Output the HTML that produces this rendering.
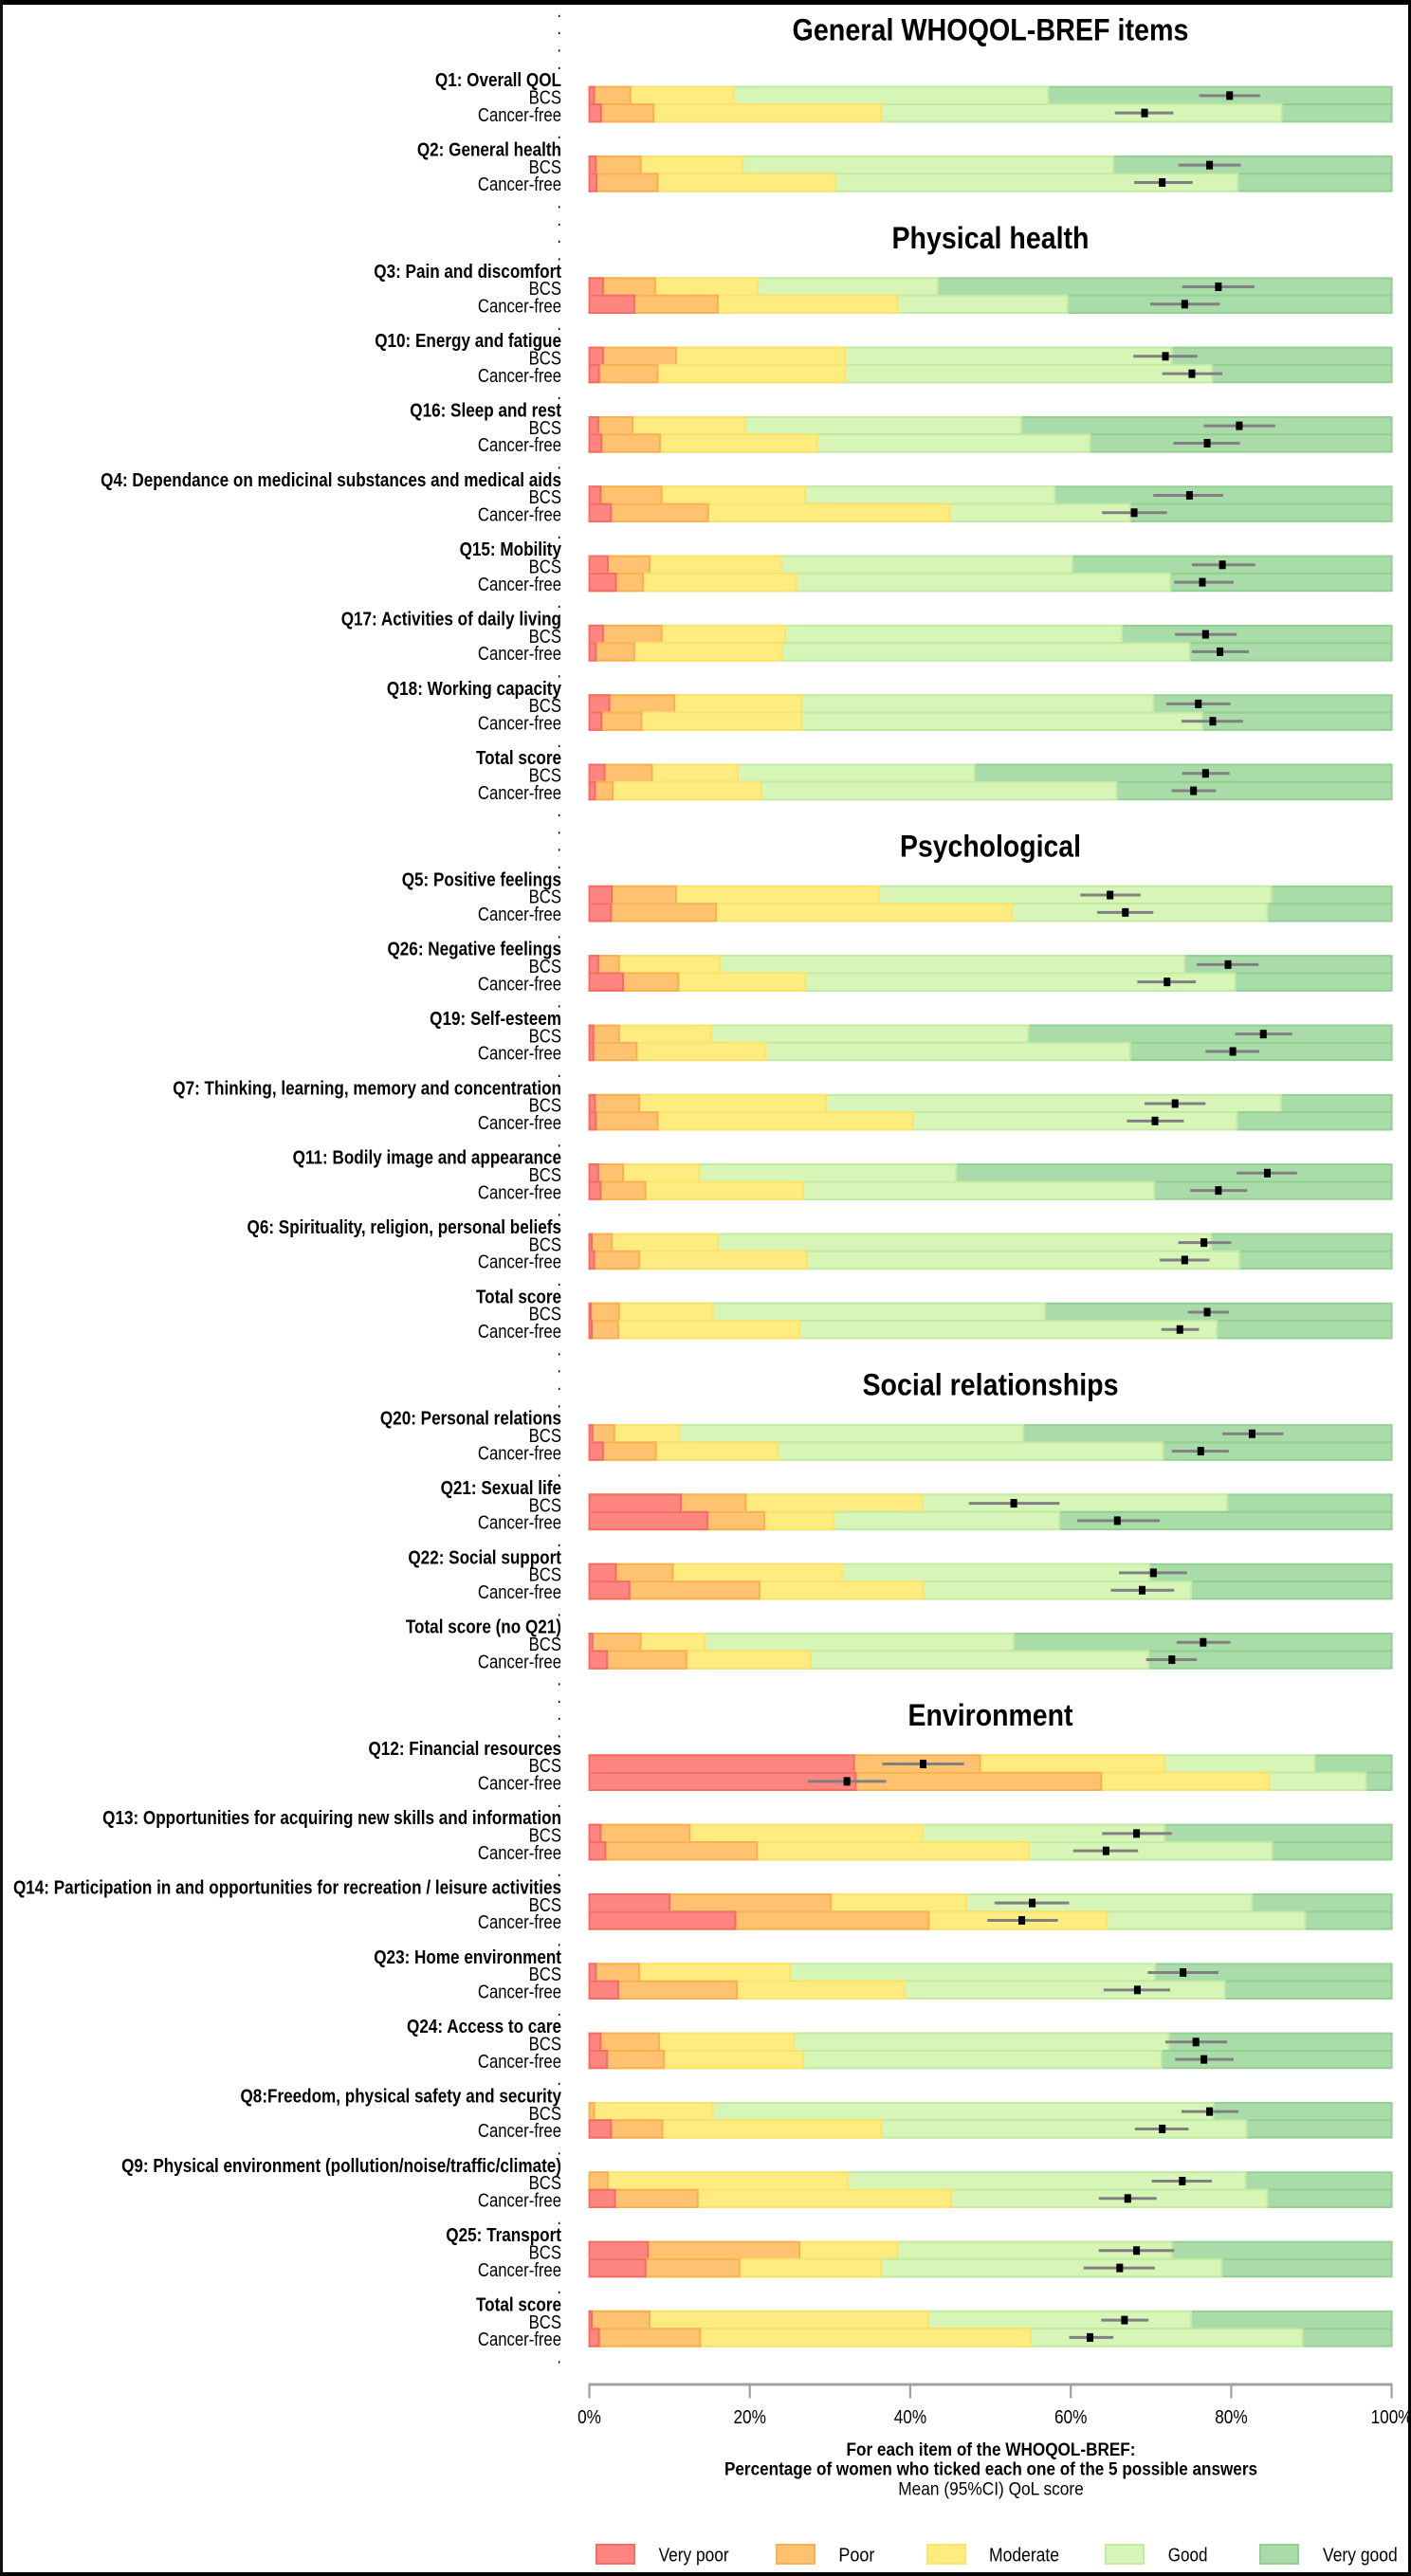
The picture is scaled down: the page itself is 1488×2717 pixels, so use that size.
<!DOCTYPE html>
<html><head><meta charset="utf-8">
<style>
html,body{margin:0;padding:0;background:#fff}
svg{display:block}
text{font-family:"Liberation Sans",Arial,sans-serif;fill:#000}
.L text{text-anchor:end;font-size:20px}
.L text.b{font-weight:bold;font-size:20.5px}
.T text{font-weight:bold;font-size:32.5px;text-anchor:middle}
.v{fill:#aadcaa;stroke:#93cf93}
.g{fill:#d8f5b8;stroke:#c4eaa3}
.m{fill:#ffec80;stroke:#fde36a}
.p{fill:#fec270;stroke:#fbb050}
.r{fill:#ff8580;stroke:#f76b66}
.bars rect{stroke-width:2;vector-effect:non-scaling-stroke}
.bars rect.k{fill:#000;stroke:none}
.bars line{stroke:#808080;stroke-width:3}
.lg rect{stroke-width:2}
</style></head>
<body>
<svg width="1488" height="2717" viewBox="0 0 1488 2717" xmlns="http://www.w3.org/2000/svg">
<rect x="0" y="0" width="1488" height="2717" fill="#fff"/>

<g class="T">
<text x="1044.5" y="42.5" textLength="418" lengthAdjust="spacingAndGlyphs">General WHOQOL-BREF items</text>
<text x="1044.5" y="261.8" textLength="208" lengthAdjust="spacingAndGlyphs">Physical health</text>
<text x="1044.5" y="903.3" textLength="191" lengthAdjust="spacingAndGlyphs">Psychological</text>
<text x="1044.5" y="1471.6" textLength="270" lengthAdjust="spacingAndGlyphs">Social relationships</text>
<text x="1044.5" y="1819.8" textLength="174" lengthAdjust="spacingAndGlyphs">Environment</text>
</g>

<g class="L">
<text transform="translate(592 17.9) scale(.835 1)">.</text>
<text transform="translate(592 36.23) scale(.835 1)">.</text>
<text transform="translate(592 54.56) scale(.835 1)">.</text>
<text transform="translate(592 72.89) scale(.835 1)">.</text>
<text class="b" transform="translate(592 91.22) scale(.835 1)">Q1: Overall QOL</text>
<text transform="translate(592 109.55) scale(.835 1)">BCS</text>
<text transform="translate(592 127.88) scale(.835 1)">Cancer-free</text>
<text transform="translate(592 146.21) scale(.835 1)">.</text>
<text class="b" transform="translate(592 164.54) scale(.835 1)">Q2: General health</text>
<text transform="translate(592 182.87) scale(.835 1)">BCS</text>
<text transform="translate(592 201.2) scale(.835 1)">Cancer-free</text>
<text transform="translate(592 219.53) scale(.835 1)">.</text>
<text transform="translate(592 237.86) scale(.835 1)">.</text>
<text transform="translate(592 256.19) scale(.835 1)">.</text>
<text transform="translate(592 274.52) scale(.835 1)">.</text>
<text class="b" transform="translate(592 292.85) scale(.835 1)">Q3: Pain and discomfort</text>
<text transform="translate(592 311.18) scale(.835 1)">BCS</text>
<text transform="translate(592 329.51) scale(.835 1)">Cancer-free</text>
<text transform="translate(592 347.84) scale(.835 1)">.</text>
<text class="b" transform="translate(592 366.17) scale(.835 1)">Q10: Energy and fatigue</text>
<text transform="translate(592 384.5) scale(.835 1)">BCS</text>
<text transform="translate(592 402.83) scale(.835 1)">Cancer-free</text>
<text transform="translate(592 421.16) scale(.835 1)">.</text>
<text class="b" transform="translate(592 439.49) scale(.835 1)">Q16: Sleep and rest</text>
<text transform="translate(592 457.82) scale(.835 1)">BCS</text>
<text transform="translate(592 476.15) scale(.835 1)">Cancer-free</text>
<text transform="translate(592 494.48) scale(.835 1)">.</text>
<text class="b" transform="translate(592 512.81) scale(.835 1)">Q4: Dependance on medicinal substances and medical aids</text>
<text transform="translate(592 531.14) scale(.835 1)">BCS</text>
<text transform="translate(592 549.47) scale(.835 1)">Cancer-free</text>
<text transform="translate(592 567.8) scale(.835 1)">.</text>
<text class="b" transform="translate(592 586.13) scale(.835 1)">Q15: Mobility</text>
<text transform="translate(592 604.46) scale(.835 1)">BCS</text>
<text transform="translate(592 622.79) scale(.835 1)">Cancer-free</text>
<text transform="translate(592 641.12) scale(.835 1)">.</text>
<text class="b" transform="translate(592 659.45) scale(.835 1)">Q17: Activities of daily living</text>
<text transform="translate(592 677.78) scale(.835 1)">BCS</text>
<text transform="translate(592 696.11) scale(.835 1)">Cancer-free</text>
<text transform="translate(592 714.44) scale(.835 1)">.</text>
<text class="b" transform="translate(592 732.77) scale(.835 1)">Q18: Working capacity</text>
<text transform="translate(592 751.1) scale(.835 1)">BCS</text>
<text transform="translate(592 769.43) scale(.835 1)">Cancer-free</text>
<text transform="translate(592 787.76) scale(.835 1)">.</text>
<text class="b" transform="translate(592 806.09) scale(.835 1)">Total score</text>
<text transform="translate(592 824.42) scale(.835 1)">BCS</text>
<text transform="translate(592 842.75) scale(.835 1)">Cancer-free</text>
<text transform="translate(592 861.08) scale(.835 1)">.</text>
<text transform="translate(592 879.41) scale(.835 1)">.</text>
<text transform="translate(592 897.74) scale(.835 1)">.</text>
<text transform="translate(592 916.07) scale(.835 1)">.</text>
<text class="b" transform="translate(592 934.4) scale(.835 1)">Q5: Positive feelings</text>
<text transform="translate(592 952.73) scale(.835 1)">BCS</text>
<text transform="translate(592 971.06) scale(.835 1)">Cancer-free</text>
<text transform="translate(592 989.39) scale(.835 1)">.</text>
<text class="b" transform="translate(592 1007.72) scale(.835 1)">Q26: Negative feelings</text>
<text transform="translate(592 1026.05) scale(.835 1)">BCS</text>
<text transform="translate(592 1044.38) scale(.835 1)">Cancer-free</text>
<text transform="translate(592 1062.71) scale(.835 1)">.</text>
<text class="b" transform="translate(592 1081.04) scale(.835 1)">Q19: Self-esteem</text>
<text transform="translate(592 1099.37) scale(.835 1)">BCS</text>
<text transform="translate(592 1117.7) scale(.835 1)">Cancer-free</text>
<text transform="translate(592 1136.03) scale(.835 1)">.</text>
<text class="b" transform="translate(592 1154.36) scale(.835 1)">Q7: Thinking, learning, memory and concentration</text>
<text transform="translate(592 1172.69) scale(.835 1)">BCS</text>
<text transform="translate(592 1191.02) scale(.835 1)">Cancer-free</text>
<text transform="translate(592 1209.35) scale(.835 1)">.</text>
<text class="b" transform="translate(592 1227.68) scale(.835 1)">Q11: Bodily image and appearance</text>
<text transform="translate(592 1246.01) scale(.835 1)">BCS</text>
<text transform="translate(592 1264.34) scale(.835 1)">Cancer-free</text>
<text transform="translate(592 1282.67) scale(.835 1)">.</text>
<text class="b" transform="translate(592 1301) scale(.835 1)">Q6: Spirituality, religion, personal beliefs</text>
<text transform="translate(592 1319.33) scale(.835 1)">BCS</text>
<text transform="translate(592 1337.66) scale(.835 1)">Cancer-free</text>
<text transform="translate(592 1355.99) scale(.835 1)">.</text>
<text class="b" transform="translate(592 1374.32) scale(.835 1)">Total score</text>
<text transform="translate(592 1392.65) scale(.835 1)">BCS</text>
<text transform="translate(592 1410.98) scale(.835 1)">Cancer-free</text>
<text transform="translate(592 1429.31) scale(.835 1)">.</text>
<text transform="translate(592 1447.64) scale(.835 1)">.</text>
<text transform="translate(592 1465.97) scale(.835 1)">.</text>
<text transform="translate(592 1484.3) scale(.835 1)">.</text>
<text class="b" transform="translate(592 1502.63) scale(.835 1)">Q20: Personal relations</text>
<text transform="translate(592 1520.96) scale(.835 1)">BCS</text>
<text transform="translate(592 1539.29) scale(.835 1)">Cancer-free</text>
<text transform="translate(592 1557.62) scale(.835 1)">.</text>
<text class="b" transform="translate(592 1575.95) scale(.835 1)">Q21: Sexual life</text>
<text transform="translate(592 1594.28) scale(.835 1)">BCS</text>
<text transform="translate(592 1612.61) scale(.835 1)">Cancer-free</text>
<text transform="translate(592 1630.94) scale(.835 1)">.</text>
<text class="b" transform="translate(592 1649.27) scale(.835 1)">Q22: Social support</text>
<text transform="translate(592 1667.6) scale(.835 1)">BCS</text>
<text transform="translate(592 1685.93) scale(.835 1)">Cancer-free</text>
<text transform="translate(592 1704.26) scale(.835 1)">.</text>
<text class="b" transform="translate(592 1722.59) scale(.835 1)">Total score (no Q21)</text>
<text transform="translate(592 1740.92) scale(.835 1)">BCS</text>
<text transform="translate(592 1759.25) scale(.835 1)">Cancer-free</text>
<text transform="translate(592 1777.58) scale(.835 1)">.</text>
<text transform="translate(592 1795.91) scale(.835 1)">.</text>
<text transform="translate(592 1814.24) scale(.835 1)">.</text>
<text transform="translate(592 1832.57) scale(.835 1)">.</text>
<text class="b" transform="translate(592 1850.9) scale(.835 1)">Q12: Financial resources</text>
<text transform="translate(592 1869.23) scale(.835 1)">BCS</text>
<text transform="translate(592 1887.56) scale(.835 1)">Cancer-free</text>
<text transform="translate(592 1905.89) scale(.835 1)">.</text>
<text class="b" transform="translate(592 1924.22) scale(.835 1)">Q13: Opportunities for acquiring new skills and information</text>
<text transform="translate(592 1942.55) scale(.835 1)">BCS</text>
<text transform="translate(592 1960.88) scale(.835 1)">Cancer-free</text>
<text transform="translate(592 1979.21) scale(.835 1)">.</text>
<text class="b" transform="translate(592 1997.54) scale(.835 1)">Q14: Participation in and opportunities for recreation / leisure activities</text>
<text transform="translate(592 2015.87) scale(.835 1)">BCS</text>
<text transform="translate(592 2034.2) scale(.835 1)">Cancer-free</text>
<text transform="translate(592 2052.53) scale(.835 1)">.</text>
<text class="b" transform="translate(592 2070.86) scale(.835 1)">Q23: Home environment</text>
<text transform="translate(592 2089.19) scale(.835 1)">BCS</text>
<text transform="translate(592 2107.52) scale(.835 1)">Cancer-free</text>
<text transform="translate(592 2125.85) scale(.835 1)">.</text>
<text class="b" transform="translate(592 2144.18) scale(.835 1)">Q24: Access to care</text>
<text transform="translate(592 2162.51) scale(.835 1)">BCS</text>
<text transform="translate(592 2180.84) scale(.835 1)">Cancer-free</text>
<text transform="translate(592 2199.17) scale(.835 1)">.</text>
<text class="b" transform="translate(592 2217.5) scale(.835 1)">Q8:Freedom, physical safety and security</text>
<text transform="translate(592 2235.83) scale(.835 1)">BCS</text>
<text transform="translate(592 2254.16) scale(.835 1)">Cancer-free</text>
<text transform="translate(592 2272.49) scale(.835 1)">.</text>
<text class="b" transform="translate(592 2290.82) scale(.835 1)">Q9: Physical environment (pollution/noise/traffic/climate)</text>
<text transform="translate(592 2309.15) scale(.835 1)">BCS</text>
<text transform="translate(592 2327.48) scale(.835 1)">Cancer-free</text>
<text transform="translate(592 2345.81) scale(.835 1)">.</text>
<text class="b" transform="translate(592 2364.14) scale(.835 1)">Q25: Transport</text>
<text transform="translate(592 2382.47) scale(.835 1)">BCS</text>
<text transform="translate(592 2400.8) scale(.835 1)">Cancer-free</text>
<text transform="translate(592 2419.13) scale(.835 1)">.</text>
<text class="b" transform="translate(592 2437.46) scale(.835 1)">Total score</text>
<text transform="translate(592 2455.79) scale(.835 1)">BCS</text>
<text transform="translate(592 2474.12) scale(.835 1)">Cancer-free</text>
<text transform="translate(592 2492.45) scale(.835 1)">.</text>
</g>

<g class="bars">
<!-- Q1 -->
<g transform="translate(621.5 100.85) scale(8.461 1)"><rect class="v" y="-9.165" width="100" height="18.33"/><rect class="g" y="-9.165" width="57.2" height="18.33"/><rect class="m" y="-9.165" width="18" height="18.33"/><rect class="p" y="-9.165" width="5.1" height="18.33"/><rect class="r" y="-9.165" width="0.6" height="18.33"/><line x1="76" x2="83.6"/><rect class="k" x="79.39" y="-4.5" width="0.83" height="9"/></g>
<g transform="translate(621.5 119.18) scale(8.461 1)"><rect class="v" y="-9.165" width="100" height="18.33"/><rect class="g" y="-9.165" width="86.3" height="18.33"/><rect class="m" y="-9.165" width="36.4" height="18.33"/><rect class="p" y="-9.165" width="8" height="18.33"/><rect class="r" y="-9.165" width="1.45" height="18.33"/><line x1="65.5" x2="72.8"/><rect class="k" x="68.79" y="-4.5" width="0.83" height="9"/></g>
<!-- Q2 -->
<g transform="translate(621.5 174.17) scale(8.461 1)"><rect class="v" y="-9.165" width="100" height="18.33"/><rect class="g" y="-9.165" width="65.3" height="18.33"/><rect class="m" y="-9.165" width="19.1" height="18.33"/><rect class="p" y="-9.165" width="6.4" height="18.33"/><rect class="r" y="-9.165" width="0.8" height="18.33"/><line x1="73.4" x2="81.2"/><rect class="k" x="76.89" y="-4.5" width="0.83" height="9"/></g>
<g transform="translate(621.5 192.5) scale(8.461 1)"><rect class="v" y="-9.165" width="100" height="18.33"/><rect class="g" y="-9.165" width="80.8" height="18.33"/><rect class="m" y="-9.165" width="30.6" height="18.33"/><rect class="p" y="-9.165" width="8.5" height="18.33"/><rect class="r" y="-9.165" width="0.9" height="18.33"/><line x1="67.9" x2="75.2"/><rect class="k" x="70.99" y="-4.5" width="0.83" height="9"/></g>
<!-- Q3 -->
<g transform="translate(621.5 302.48) scale(8.461 1)"><rect class="v" y="-9.165" width="100" height="18.33"/><rect class="g" y="-9.165" width="43.4" height="18.33"/><rect class="m" y="-9.165" width="21" height="18.33"/><rect class="p" y="-9.165" width="8.2" height="18.33"/><rect class="r" y="-9.165" width="1.7" height="18.33"/><line x1="73.9" x2="82.9"/><rect class="k" x="77.99" y="-4.5" width="0.83" height="9"/></g>
<g transform="translate(621.5 320.81) scale(8.461 1)"><rect class="v" y="-9.165" width="100" height="18.33"/><rect class="g" y="-9.165" width="59.6" height="18.33"/><rect class="m" y="-9.165" width="38.4" height="18.33"/><rect class="p" y="-9.165" width="16" height="18.33"/><rect class="r" y="-9.165" width="5.6" height="18.33"/><line x1="69.9" x2="78.6"/><rect class="k" x="73.79" y="-4.5" width="0.83" height="9"/></g>
<!-- Q10 -->
<g transform="translate(621.5 375.8) scale(8.461 1)"><rect class="v" y="-9.165" width="100" height="18.33"/><rect class="g" y="-9.165" width="72.6" height="18.33"/><rect class="m" y="-9.165" width="31.9" height="18.33"/><rect class="p" y="-9.165" width="10.8" height="18.33"/><rect class="r" y="-9.165" width="1.7" height="18.33"/><line x1="67.8" x2="75.8"/><rect class="k" x="71.39" y="-4.5" width="0.83" height="9"/></g>
<g transform="translate(621.5 394.13) scale(8.461 1)"><rect class="v" y="-9.165" width="100" height="18.33"/><rect class="g" y="-9.165" width="77.6" height="18.33"/><rect class="m" y="-9.165" width="31.9" height="18.33"/><rect class="p" y="-9.165" width="8.5" height="18.33"/><rect class="r" y="-9.165" width="1.2" height="18.33"/><line x1="71.4" x2="78.9"/><rect class="k" x="74.69" y="-4.5" width="0.83" height="9"/></g>
<!-- Q16 -->
<g transform="translate(621.5 449.12) scale(8.461 1)"><rect class="v" y="-9.165" width="100" height="18.33"/><rect class="g" y="-9.165" width="53.8" height="18.33"/><rect class="m" y="-9.165" width="19.4" height="18.33"/><rect class="p" y="-9.165" width="5.4" height="18.33"/><rect class="r" y="-9.165" width="1.1" height="18.33"/><line x1="76.6" x2="85.5"/><rect class="k" x="80.59" y="-4.5" width="0.83" height="9"/></g>
<g transform="translate(621.5 467.45) scale(8.461 1)"><rect class="v" y="-9.165" width="100" height="18.33"/><rect class="g" y="-9.165" width="62.4" height="18.33"/><rect class="m" y="-9.165" width="28.4" height="18.33"/><rect class="p" y="-9.165" width="8.8" height="18.33"/><rect class="r" y="-9.165" width="1.5" height="18.33"/><line x1="72.8" x2="81.1"/><rect class="k" x="76.59" y="-4.5" width="0.83" height="9"/></g>
<!-- Q4 -->
<g transform="translate(621.5 522.44) scale(8.461 1)"><rect class="v" y="-9.165" width="100" height="18.33"/><rect class="g" y="-9.165" width="58" height="18.33"/><rect class="m" y="-9.165" width="26.9" height="18.33"/><rect class="p" y="-9.165" width="9" height="18.33"/><rect class="r" y="-9.165" width="1.4" height="18.33"/><line x1="70.3" x2="79"/><rect class="k" x="74.39" y="-4.5" width="0.83" height="9"/></g>
<g transform="translate(621.5 540.77) scale(8.461 1)"><rect class="v" y="-9.165" width="100" height="18.33"/><rect class="g" y="-9.165" width="67.4" height="18.33"/><rect class="m" y="-9.165" width="44.9" height="18.33"/><rect class="p" y="-9.165" width="14.8" height="18.33"/><rect class="r" y="-9.165" width="2.7" height="18.33"/><line x1="63.9" x2="72"/><rect class="k" x="67.49" y="-4.5" width="0.83" height="9"/></g>
<!-- Q15 -->
<g transform="translate(621.5 595.76) scale(8.461 1)"><rect class="v" y="-9.165" width="100" height="18.33"/><rect class="g" y="-9.165" width="60.2" height="18.33"/><rect class="m" y="-9.165" width="23.9" height="18.33"/><rect class="p" y="-9.165" width="7.5" height="18.33"/><rect class="r" y="-9.165" width="2.3" height="18.33"/><line x1="75.1" x2="83"/><rect class="k" x="78.49" y="-4.5" width="0.83" height="9"/></g>
<g transform="translate(621.5 614.09) scale(8.461 1)"><rect class="v" y="-9.165" width="100" height="18.33"/><rect class="g" y="-9.165" width="72.4" height="18.33"/><rect class="m" y="-9.165" width="25.8" height="18.33"/><rect class="p" y="-9.165" width="6.7" height="18.33"/><rect class="r" y="-9.165" width="3.3" height="18.33"/><line x1="72.9" x2="80.3"/><rect class="k" x="75.99" y="-4.5" width="0.83" height="9"/></g>
<!-- Q17 -->
<g transform="translate(621.5 669.08) scale(8.461 1)"><rect class="v" y="-9.165" width="100" height="18.33"/><rect class="g" y="-9.165" width="66.4" height="18.33"/><rect class="m" y="-9.165" width="24.4" height="18.33"/><rect class="p" y="-9.165" width="9" height="18.33"/><rect class="r" y="-9.165" width="1.7" height="18.33"/><line x1="73" x2="80.7"/><rect class="k" x="76.39" y="-4.5" width="0.83" height="9"/></g>
<g transform="translate(621.5 687.41) scale(8.461 1)"><rect class="v" y="-9.165" width="100" height="18.33"/><rect class="g" y="-9.165" width="74.8" height="18.33"/><rect class="m" y="-9.165" width="24" height="18.33"/><rect class="p" y="-9.165" width="5.6" height="18.33"/><rect class="r" y="-9.165" width="0.8" height="18.33"/><line x1="75.1" x2="82.2"/><rect class="k" x="78.19" y="-4.5" width="0.83" height="9"/></g>
<!-- Q18 -->
<g transform="translate(621.5 742.4) scale(8.461 1)"><rect class="v" y="-9.165" width="100" height="18.33"/><rect class="g" y="-9.165" width="70.3" height="18.33"/><rect class="m" y="-9.165" width="26.4" height="18.33"/><rect class="p" y="-9.165" width="10.6" height="18.33"/><rect class="r" y="-9.165" width="2.5" height="18.33"/><line x1="71.9" x2="79.9"/><rect class="k" x="75.49" y="-4.5" width="0.83" height="9"/></g>
<g transform="translate(621.5 760.73) scale(8.461 1)"><rect class="v" y="-9.165" width="100" height="18.33"/><rect class="g" y="-9.165" width="76.4" height="18.33"/><rect class="m" y="-9.165" width="26.4" height="18.33"/><rect class="p" y="-9.165" width="6.5" height="18.33"/><rect class="r" y="-9.165" width="1.5" height="18.33"/><line x1="73.8" x2="81.5"/><rect class="k" x="77.29" y="-4.5" width="0.83" height="9"/></g>
<!-- Total physical -->
<g transform="translate(621.5 815.72) scale(8.461 1)"><rect class="v" y="-9.165" width="100" height="18.33"/><rect class="g" y="-9.165" width="48" height="18.33"/><rect class="m" y="-9.165" width="18.5" height="18.33"/><rect class="p" y="-9.165" width="7.8" height="18.33"/><rect class="r" y="-9.165" width="1.9" height="18.33"/><line x1="73.9" x2="79.8"/><rect class="k" x="76.39" y="-4.5" width="0.83" height="9"/></g>
<g transform="translate(621.5 834.05) scale(8.461 1)"><rect class="v" y="-9.165" width="100" height="18.33"/><rect class="g" y="-9.165" width="65.7" height="18.33"/><rect class="m" y="-9.165" width="21.4" height="18.33"/><rect class="p" y="-9.165" width="2.9" height="18.33"/><rect class="r" y="-9.165" width="0.7" height="18.33"/><line x1="72.6" x2="78.1"/><rect class="k" x="74.89" y="-4.5" width="0.83" height="9"/></g>
<!-- Q5 -->
<g transform="translate(621.5 944.03) scale(8.461 1)"><rect class="v" y="-9.165" width="100" height="18.33"/><rect class="g" y="-9.165" width="85" height="18.33"/><rect class="m" y="-9.165" width="36.1" height="18.33"/><rect class="p" y="-9.165" width="10.8" height="18.33"/><rect class="r" y="-9.165" width="2.8" height="18.33"/><line x1="61.2" x2="68.7"/><rect class="k" x="64.49" y="-4.5" width="0.83" height="9"/></g>
<g transform="translate(621.5 962.36) scale(8.461 1)"><rect class="v" y="-9.165" width="100" height="18.33"/><rect class="g" y="-9.165" width="84.5" height="18.33"/><rect class="m" y="-9.165" width="52.7" height="18.33"/><rect class="p" y="-9.165" width="15.8" height="18.33"/><rect class="r" y="-9.165" width="2.7" height="18.33"/><line x1="63.3" x2="70.3"/><rect class="k" x="66.39" y="-4.5" width="0.83" height="9"/></g>
<!-- Q26 -->
<g transform="translate(621.5 1017.35) scale(8.461 1)"><rect class="v" y="-9.165" width="100" height="18.33"/><rect class="g" y="-9.165" width="74.2" height="18.33"/><rect class="m" y="-9.165" width="16.3" height="18.33"/><rect class="p" y="-9.165" width="3.7" height="18.33"/><rect class="r" y="-9.165" width="1.1" height="18.33"/><line x1="75.7" x2="83.4"/><rect class="k" x="79.19" y="-4.5" width="0.83" height="9"/></g>
<g transform="translate(621.5 1035.68) scale(8.461 1)"><rect class="v" y="-9.165" width="100" height="18.33"/><rect class="g" y="-9.165" width="80.5" height="18.33"/><rect class="m" y="-9.165" width="26.9" height="18.33"/><rect class="p" y="-9.165" width="11.1" height="18.33"/><rect class="r" y="-9.165" width="4.2" height="18.33"/><line x1="68.3" x2="75.6"/><rect class="k" x="71.59" y="-4.5" width="0.83" height="9"/></g>
<!-- Q19 -->
<g transform="translate(621.5 1090.67) scale(8.461 1)"><rect class="v" y="-9.165" width="100" height="18.33"/><rect class="g" y="-9.165" width="54.7" height="18.33"/><rect class="m" y="-9.165" width="15.2" height="18.33"/><rect class="p" y="-9.165" width="3.7" height="18.33"/><rect class="r" y="-9.165" width="0.5" height="18.33"/><line x1="80.5" x2="87.6"/><rect class="k" x="83.59" y="-4.5" width="0.83" height="9"/></g>
<g transform="translate(621.5 1109) scale(8.461 1)"><rect class="v" y="-9.165" width="100" height="18.33"/><rect class="g" y="-9.165" width="67.4" height="18.33"/><rect class="m" y="-9.165" width="22" height="18.33"/><rect class="p" y="-9.165" width="5.9" height="18.33"/><rect class="r" y="-9.165" width="0.5" height="18.33"/><line x1="76.8" x2="83.5"/><rect class="k" x="79.79" y="-4.5" width="0.83" height="9"/></g>
<!-- Q7 -->
<g transform="translate(621.5 1163.99) scale(8.461 1)"><rect class="v" y="-9.165" width="100" height="18.33"/><rect class="g" y="-9.165" width="86.2" height="18.33"/><rect class="m" y="-9.165" width="29.5" height="18.33"/><rect class="p" y="-9.165" width="6.2" height="18.33"/><rect class="r" y="-9.165" width="0.7" height="18.33"/><line x1="69.2" x2="76.8"/><rect class="k" x="72.59" y="-4.5" width="0.83" height="9"/></g>
<g transform="translate(621.5 1182.32) scale(8.461 1)"><rect class="v" y="-9.165" width="100" height="18.33"/><rect class="g" y="-9.165" width="80.7" height="18.33"/><rect class="m" y="-9.165" width="40.3" height="18.33"/><rect class="p" y="-9.165" width="8.5" height="18.33"/><rect class="r" y="-9.165" width="0.8" height="18.33"/><line x1="67" x2="74.1"/><rect class="k" x="70.09" y="-4.5" width="0.83" height="9"/></g>
<!-- Q11 -->
<g transform="translate(621.5 1237.31) scale(8.461 1)"><rect class="v" y="-9.165" width="100" height="18.33"/><rect class="g" y="-9.165" width="45.7" height="18.33"/><rect class="m" y="-9.165" width="13.7" height="18.33"/><rect class="p" y="-9.165" width="4.2" height="18.33"/><rect class="r" y="-9.165" width="1.1" height="18.33"/><line x1="80.7" x2="88.2"/><rect class="k" x="84.09" y="-4.5" width="0.83" height="9"/></g>
<g transform="translate(621.5 1255.64) scale(8.461 1)"><rect class="v" y="-9.165" width="100" height="18.33"/><rect class="g" y="-9.165" width="70.4" height="18.33"/><rect class="m" y="-9.165" width="26.6" height="18.33"/><rect class="p" y="-9.165" width="7" height="18.33"/><rect class="r" y="-9.165" width="1.4" height="18.33"/><line x1="74.9" x2="82"/><rect class="k" x="77.99" y="-4.5" width="0.83" height="9"/></g>
<!-- Q6 -->
<g transform="translate(621.5 1310.63) scale(8.461 1)"><rect class="v" y="-9.165" width="100" height="18.33"/><rect class="g" y="-9.165" width="77.5" height="18.33"/><rect class="m" y="-9.165" width="16" height="18.33"/><rect class="p" y="-9.165" width="2.8" height="18.33"/><rect class="r" y="-9.165" width="0.3" height="18.33"/><line x1="73.4" x2="80"/><rect class="k" x="76.19" y="-4.5" width="0.83" height="9"/></g>
<g transform="translate(621.5 1328.96) scale(8.461 1)"><rect class="v" y="-9.165" width="100" height="18.33"/><rect class="g" y="-9.165" width="81" height="18.33"/><rect class="m" y="-9.165" width="27.1" height="18.33"/><rect class="p" y="-9.165" width="6.2" height="18.33"/><rect class="r" y="-9.165" width="0.6" height="18.33"/><line x1="71.1" x2="77.3"/><rect class="k" x="73.79" y="-4.5" width="0.83" height="9"/></g>
<!-- Total psych -->
<g transform="translate(621.5 1383.95) scale(8.461 1)"><rect class="v" y="-9.165" width="100" height="18.33"/><rect class="g" y="-9.165" width="56.8" height="18.33"/><rect class="m" y="-9.165" width="15.4" height="18.33"/><rect class="p" y="-9.165" width="3.7" height="18.33"/><rect class="r" y="-9.165" width="0.2" height="18.33"/><line x1="74.6" x2="79.7"/><rect class="k" x="76.59" y="-4.5" width="0.83" height="9"/></g>
<g transform="translate(621.5 1402.28) scale(8.461 1)"><rect class="v" y="-9.165" width="100" height="18.33"/><rect class="g" y="-9.165" width="78.2" height="18.33"/><rect class="m" y="-9.165" width="26.2" height="18.33"/><rect class="p" y="-9.165" width="3.6" height="18.33"/><rect class="r" y="-9.165" width="0.3" height="18.33"/><line x1="71.3" x2="76"/><rect class="k" x="73.19" y="-4.5" width="0.83" height="9"/></g>
<!-- Q20 -->
<g transform="translate(621.5 1512.26) scale(8.461 1)"><rect class="v" y="-9.165" width="100" height="18.33"/><rect class="g" y="-9.165" width="54.1" height="18.33"/><rect class="m" y="-9.165" width="11.2" height="18.33"/><rect class="p" y="-9.165" width="3.1" height="18.33"/><rect class="r" y="-9.165" width="0.4" height="18.33"/><line x1="78.9" x2="86.5"/><rect class="k" x="82.19" y="-4.5" width="0.83" height="9"/></g>
<g transform="translate(621.5 1530.59) scale(8.461 1)"><rect class="v" y="-9.165" width="100" height="18.33"/><rect class="g" y="-9.165" width="71.5" height="18.33"/><rect class="m" y="-9.165" width="23.5" height="18.33"/><rect class="p" y="-9.165" width="8.3" height="18.33"/><rect class="r" y="-9.165" width="1.7" height="18.33"/><line x1="72.6" x2="79.7"/><rect class="k" x="75.79" y="-4.5" width="0.83" height="9"/></g>
<!-- Q21 -->
<g transform="translate(621.5 1585.58) scale(8.461 1)"><rect class="v" y="-9.165" width="100" height="18.33"/><rect class="g" y="-9.165" width="79.5" height="18.33"/><rect class="m" y="-9.165" width="41.5" height="18.33"/><rect class="p" y="-9.165" width="19.5" height="18.33"/><rect class="r" y="-9.165" width="11.4" height="18.33"/><line x1="47.3" x2="58.6"/><rect class="k" x="52.49" y="-4.5" width="0.83" height="9"/></g>
<g transform="translate(621.5 1603.91) scale(8.461 1)"><rect class="v" y="-9.165" width="100" height="18.33"/><rect class="g" y="-9.165" width="58.6" height="18.33"/><rect class="m" y="-9.165" width="30.5" height="18.33"/><rect class="p" y="-9.165" width="21.8" height="18.33"/><rect class="r" y="-9.165" width="14.7" height="18.33"/><line x1="60.8" x2="71.1"/><rect class="k" x="65.39" y="-4.5" width="0.83" height="9"/></g>
<!-- Q22 -->
<g transform="translate(621.5 1658.9) scale(8.461 1)"><rect class="v" y="-9.165" width="100" height="18.33"/><rect class="g" y="-9.165" width="69.8" height="18.33"/><rect class="m" y="-9.165" width="31.5" height="18.33"/><rect class="p" y="-9.165" width="10.4" height="18.33"/><rect class="r" y="-9.165" width="3.3" height="18.33"/><line x1="66" x2="74.5"/><rect class="k" x="69.89" y="-4.5" width="0.83" height="9"/></g>
<g transform="translate(621.5 1677.23) scale(8.461 1)"><rect class="v" y="-9.165" width="100" height="18.33"/><rect class="g" y="-9.165" width="75" height="18.33"/><rect class="m" y="-9.165" width="41.6" height="18.33"/><rect class="p" y="-9.165" width="21.2" height="18.33"/><rect class="r" y="-9.165" width="5" height="18.33"/><line x1="65" x2="72.9"/><rect class="k" x="68.49" y="-4.5" width="0.83" height="9"/></g>
<!-- Total social -->
<g transform="translate(621.5 1732.22) scale(8.461 1)"><rect class="v" y="-9.165" width="100" height="18.33"/><rect class="g" y="-9.165" width="52.9" height="18.33"/><rect class="m" y="-9.165" width="14.4" height="18.33"/><rect class="p" y="-9.165" width="6.4" height="18.33"/><rect class="r" y="-9.165" width="0.4" height="18.33"/><line x1="73.2" x2="79.9"/><rect class="k" x="76.09" y="-4.5" width="0.83" height="9"/></g>
<g transform="translate(621.5 1750.55) scale(8.461 1)"><rect class="v" y="-9.165" width="100" height="18.33"/><rect class="g" y="-9.165" width="69.7" height="18.33"/><rect class="m" y="-9.165" width="27.6" height="18.33"/><rect class="p" y="-9.165" width="12.1" height="18.33"/><rect class="r" y="-9.165" width="2.2" height="18.33"/><line x1="69.4" x2="75.7"/><rect class="k" x="72.19" y="-4.5" width="0.83" height="9"/></g>
<!-- Q12 -->
<g transform="translate(621.5 1860.53) scale(8.461 1)"><rect class="v" y="-9.165" width="100" height="18.33"/><rect class="g" y="-9.165" width="90.4" height="18.33"/><rect class="m" y="-9.165" width="71.7" height="18.33"/><rect class="p" y="-9.165" width="48.7" height="18.33"/><rect class="r" y="-9.165" width="33" height="18.33"/><line x1="36.5" x2="46.7"/><rect class="k" x="41.19" y="-4.5" width="0.83" height="9"/></g>
<g transform="translate(621.5 1878.86) scale(8.461 1)"><rect class="v" y="-9.165" width="100" height="18.33"/><rect class="g" y="-9.165" width="96.8" height="18.33"/><rect class="m" y="-9.165" width="84.7" height="18.33"/><rect class="p" y="-9.165" width="63.8" height="18.33"/><rect class="r" y="-9.165" width="33.2" height="18.33"/><line x1="27.2" x2="37"/><rect class="k" x="31.69" y="-4.5" width="0.83" height="9"/></g>
<!-- Q13 -->
<g transform="translate(621.5 1933.85) scale(8.461 1)"><rect class="v" y="-9.165" width="100" height="18.33"/><rect class="g" y="-9.165" width="71.7" height="18.33"/><rect class="m" y="-9.165" width="41.5" height="18.33"/><rect class="p" y="-9.165" width="12.5" height="18.33"/><rect class="r" y="-9.165" width="1.4" height="18.33"/><line x1="63.9" x2="72.6"/><rect class="k" x="67.79" y="-4.5" width="0.83" height="9"/></g>
<g transform="translate(621.5 1952.18) scale(8.461 1)"><rect class="v" y="-9.165" width="100" height="18.33"/><rect class="g" y="-9.165" width="85.1" height="18.33"/><rect class="m" y="-9.165" width="54.8" height="18.33"/><rect class="p" y="-9.165" width="20.9" height="18.33"/><rect class="r" y="-9.165" width="2" height="18.33"/><line x1="60.3" x2="68.4"/><rect class="k" x="63.99" y="-4.5" width="0.83" height="9"/></g>
<!-- Q14 -->
<g transform="translate(621.5 2007.17) scale(8.461 1)"><rect class="v" y="-9.165" width="100" height="18.33"/><rect class="g" y="-9.165" width="82.6" height="18.33"/><rect class="m" y="-9.165" width="47" height="18.33"/><rect class="p" y="-9.165" width="30.1" height="18.33"/><rect class="r" y="-9.165" width="10" height="18.33"/><line x1="50.5" x2="59.8"/><rect class="k" x="54.79" y="-4.5" width="0.83" height="9"/></g>
<g transform="translate(621.5 2025.5) scale(8.461 1)"><rect class="v" y="-9.165" width="100" height="18.33"/><rect class="g" y="-9.165" width="89.2" height="18.33"/><rect class="m" y="-9.165" width="64.5" height="18.33"/><rect class="p" y="-9.165" width="42.3" height="18.33"/><rect class="r" y="-9.165" width="18.2" height="18.33"/><line x1="49.6" x2="58.4"/><rect class="k" x="53.49" y="-4.5" width="0.83" height="9"/></g>
<!-- Q23 -->
<g transform="translate(621.5 2080.49) scale(8.461 1)"><rect class="v" y="-9.165" width="100" height="18.33"/><rect class="g" y="-9.165" width="70.5" height="18.33"/><rect class="m" y="-9.165" width="25" height="18.33"/><rect class="p" y="-9.165" width="6.2" height="18.33"/><rect class="r" y="-9.165" width="0.8" height="18.33"/><line x1="69.6" x2="78.4"/><rect class="k" x="73.59" y="-4.5" width="0.83" height="9"/></g>
<g transform="translate(621.5 2098.82) scale(8.461 1)"><rect class="v" y="-9.165" width="100" height="18.33"/><rect class="g" y="-9.165" width="79.2" height="18.33"/><rect class="m" y="-9.165" width="39.3" height="18.33"/><rect class="p" y="-9.165" width="18.4" height="18.33"/><rect class="r" y="-9.165" width="3.6" height="18.33"/><line x1="64.1" x2="72.4"/><rect class="k" x="67.89" y="-4.5" width="0.83" height="9"/></g>
<!-- Q24 -->
<g transform="translate(621.5 2153.81) scale(8.461 1)"><rect class="v" y="-9.165" width="100" height="18.33"/><rect class="g" y="-9.165" width="72.2" height="18.33"/><rect class="m" y="-9.165" width="25.5" height="18.33"/><rect class="p" y="-9.165" width="8.7" height="18.33"/><rect class="r" y="-9.165" width="1.4" height="18.33"/><line x1="71.8" x2="79.5"/><rect class="k" x="75.19" y="-4.5" width="0.83" height="9"/></g>
<g transform="translate(621.5 2172.14) scale(8.461 1)"><rect class="v" y="-9.165" width="100" height="18.33"/><rect class="g" y="-9.165" width="71.3" height="18.33"/><rect class="m" y="-9.165" width="26.6" height="18.33"/><rect class="p" y="-9.165" width="9.3" height="18.33"/><rect class="r" y="-9.165" width="2.2" height="18.33"/><line x1="73" x2="80.3"/><rect class="k" x="76.19" y="-4.5" width="0.83" height="9"/></g>
<!-- Q8 -->
<g transform="translate(621.5 2227.13) scale(8.461 1)"><rect class="v" y="-9.165" width="100" height="18.33"/><rect class="g" y="-9.165" width="77.8" height="18.33"/><rect class="m" y="-9.165" width="15.4" height="18.33"/><rect class="p" y="-9.165" width="0.6" height="18.33"/><line x1="73.8" x2="80.9"/><rect class="k" x="76.89" y="-4.5" width="0.83" height="9"/></g>
<g transform="translate(621.5 2245.46) scale(8.461 1)"><rect class="v" y="-9.165" width="100" height="18.33"/><rect class="g" y="-9.165" width="81.9" height="18.33"/><rect class="m" y="-9.165" width="36.4" height="18.33"/><rect class="p" y="-9.165" width="9.1" height="18.33"/><rect class="r" y="-9.165" width="2.7" height="18.33"/><line x1="68" x2="74.7"/><rect class="k" x="70.99" y="-4.5" width="0.83" height="9"/></g>
<!-- Q9 -->
<g transform="translate(621.5 2300.45) scale(8.461 1)"><rect class="v" y="-9.165" width="100" height="18.33"/><rect class="g" y="-9.165" width="81.8" height="18.33"/><rect class="m" y="-9.165" width="32.2" height="18.33"/><rect class="p" y="-9.165" width="2.3" height="18.33"/><line x1="70.1" x2="77.6"/><rect class="k" x="73.49" y="-4.5" width="0.83" height="9"/></g>
<g transform="translate(621.5 2318.78) scale(8.461 1)"><rect class="v" y="-9.165" width="100" height="18.33"/><rect class="g" y="-9.165" width="84.5" height="18.33"/><rect class="m" y="-9.165" width="45.1" height="18.33"/><rect class="p" y="-9.165" width="13.5" height="18.33"/><rect class="r" y="-9.165" width="3.2" height="18.33"/><line x1="63.5" x2="70.7"/><rect class="k" x="66.69" y="-4.5" width="0.83" height="9"/></g>
<!-- Q25 -->
<g transform="translate(621.5 2373.77) scale(8.461 1)"><rect class="v" y="-9.165" width="100" height="18.33"/><rect class="g" y="-9.165" width="72.6" height="18.33"/><rect class="m" y="-9.165" width="38.4" height="18.33"/><rect class="p" y="-9.165" width="26.2" height="18.33"/><rect class="r" y="-9.165" width="7.3" height="18.33"/><line x1="63.5" x2="72.9"/><rect class="k" x="67.79" y="-4.5" width="0.83" height="9"/></g>
<g transform="translate(621.5 2392.1) scale(8.461 1)"><rect class="v" y="-9.165" width="100" height="18.33"/><rect class="g" y="-9.165" width="78.8" height="18.33"/><rect class="m" y="-9.165" width="36.4" height="18.33"/><rect class="p" y="-9.165" width="18.7" height="18.33"/><rect class="r" y="-9.165" width="7" height="18.33"/><line x1="61.6" x2="70.5"/><rect class="k" x="65.69" y="-4.5" width="0.83" height="9"/></g>
<!-- Total env -->
<g transform="translate(621.5 2447.09) scale(8.461 1)"><rect class="v" y="-9.165" width="100" height="18.33"/><rect class="g" y="-9.165" width="75" height="18.33"/><rect class="m" y="-9.165" width="42.2" height="18.33"/><rect class="p" y="-9.165" width="7.5" height="18.33"/><rect class="r" y="-9.165" width="0.3" height="18.33"/><line x1="63.8" x2="69.7"/><rect class="k" x="66.29" y="-4.5" width="0.83" height="9"/></g>
<g transform="translate(621.5 2465.42) scale(8.461 1)"><rect class="v" y="-9.165" width="100" height="18.33"/><rect class="g" y="-9.165" width="88.9" height="18.33"/><rect class="m" y="-9.165" width="55" height="18.33"/><rect class="p" y="-9.165" width="13.8" height="18.33"/><rect class="r" y="-9.165" width="1.2" height="18.33"/><line x1="59.8" x2="65.3"/><rect class="k" x="61.99" y="-4.5" width="0.83" height="9"/></g>
</g>

<!-- axis -->
<g stroke="#a0a0a0" stroke-width="2.2">
<line x1="620.5" y1="2515" x2="1468.5" y2="2515" stroke-width="3"/>
<line x1="621.5" y1="2515" x2="621.5" y2="2529.5"/>
<line x1="790.7" y1="2515" x2="790.7" y2="2529.5"/>
<line x1="959.9" y1="2515" x2="959.9" y2="2529.5"/>
<line x1="1129.2" y1="2515" x2="1129.2" y2="2529.5"/>
<line x1="1298.4" y1="2515" x2="1298.4" y2="2529.5"/>
<line x1="1467.6" y1="2515" x2="1467.6" y2="2529.5"/>
</g>
<g font-size="20" text-anchor="middle">
<text transform="translate(621.5 2556) scale(.86 1)">0%</text>
<text transform="translate(790.7 2556) scale(.86 1)">20%</text>
<text transform="translate(959.9 2556) scale(.86 1)">40%</text>
<text transform="translate(1129.2 2556) scale(.86 1)">60%</text>
<text transform="translate(1298.4 2556) scale(.86 1)">80%</text>
<text transform="translate(1467.6 2556) scale(.86 1)">100%</text>
</g>
<g text-anchor="middle" font-size="19">
<text x="1045" y="2590" font-weight="bold" textLength="305" lengthAdjust="spacingAndGlyphs">For each item of the WHOQOL-BREF:</text>
<text x="1045" y="2610.7" font-weight="bold" textLength="562" lengthAdjust="spacingAndGlyphs">Percentage of women who ticked each one of the 5 possible answers</text>
<text x="1045" y="2631.7" textLength="195.5" lengthAdjust="spacingAndGlyphs">Mean (95%CI) QoL score</text>
</g>

<!-- legend -->
<g class="lg">
<rect class="r" x="629" y="2684" width="40" height="20"/>
<rect class="p" x="819" y="2684" width="40" height="20"/>
<rect class="m" x="978" y="2684" width="40" height="20"/>
<rect class="g" x="1166" y="2684" width="40" height="20"/>
<rect class="v" x="1329" y="2684" width="40" height="20"/>
</g>
<g font-size="20">
<text x="694.6" y="2701.7" textLength="74" lengthAdjust="spacingAndGlyphs">Very poor</text>
<text x="884.4" y="2701.7" textLength="38" lengthAdjust="spacingAndGlyphs">Poor</text>
<text x="1043" y="2701.7" textLength="74" lengthAdjust="spacingAndGlyphs">Moderate</text>
<text x="1231.8" y="2701.7" textLength="41.7" lengthAdjust="spacingAndGlyphs">Good</text>
<text x="1395" y="2701.7" textLength="78.7" lengthAdjust="spacingAndGlyphs">Very good</text>
</g>

<!-- frame -->
<rect x="0" y="0" width="1488" height="5" fill="#000"/>
<rect x="0" y="0" width="3" height="2717" fill="#111"/>
<rect x="1485" y="0" width="3" height="2717" fill="#000"/>
<rect x="0" y="2713" width="1488" height="4" fill="#000"/>
</svg>
</body></html>
